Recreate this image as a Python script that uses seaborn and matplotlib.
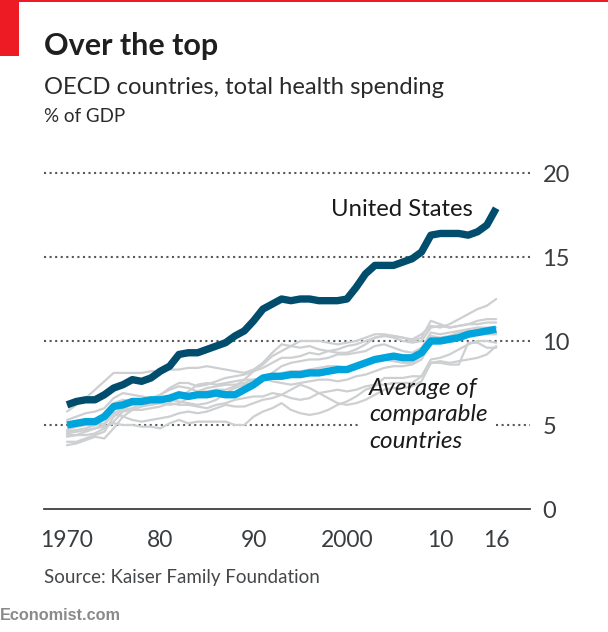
import pandas as pd
import matplotlib.pyplot as plt
import matplotlib.patches as mpatches
import seaborn as sns

# Values
years = list(range(1970, 2017))
united_states = [6.2, 6.4, 6.5, 6.5, 6.8, 7.2, 7.4, 7.7, 7.6, 7.8, 8.2, 8.5, 9.2, 9.3, 9.3, 9.5,
                 9.7, 9.9, 10.3, 10.6, 11.2, 11.9, 12.2, 12.5, 12.4, 12.5, 12.5, 12.4, 12.4, 12.4,
                 12.5, 13.2, 14.0, 14.5, 14.5, 14.5, 14.7, 14.9, 15.3, 16.3, 16.4, 16.4, 16.4,
                 16.3, 16.5, 16.9, 17.9]
average = [5.0, 5.1, 5.2, 5.2, 5.5, 6.1, 6.2, 6.4, 6.4, 6.5, 6.5, 6.6, 6.8, 6.7, 6.8, 6.8, 6.9,
           6.8, 6.8, 7.1, 7.4, 7.8, 7.9, 7.9, 8.0, 8.0, 8.1, 8.1, 8.2, 8.3, 8.3, 8.5, 8.7, 8.9,
           9.0, 9.1, 9.0, 9.0, 9.3, 10.0, 10.0, 10.1, 10.2, 10.4, 10.5, 10.6, 10.7]

grey_a = [5.8, 6.2, 6.6, 7.1, 7.6, 8.1, 8.1, 8.1, 8.1, 8.2, 8.2, 8.3, 8.3, 8.4, 8.4, 8.5, 8.4,
          8.3, 8.2, 8.1, 8.3, 8.7, 9.3, 9.8, 9.7, 9.6, 9.7, 9.5, 9.4, 9.3, 9.3, 9.5, 9.8, 10.2,
          10.3, 10.2, 10.0, 9.9, 10.0, 10.8, 10.9, 10.8, 10.9, 11.0, 11.0, 11.1, 11.1]
grey_b = [5.3, 5.5, 5.7, 5.8, 6.0, 6.6, 6.9, 6.8, 6.7, 6.6, 6.8, 7.1, 7.3, 7.2, 7.0, 7.0, 7.1,
          7.1, 7.3, 7.7, 8.2, 8.6, 9.1, 9.4, 9.7, 10.0, 10.0, 10.0, 9.9, 9.8, 9.9, 10.0, 10.2,
          10.4, 10.4, 10.3, 10.2, 10.0, 10.2, 11.2, 11.0, 10.8, 10.9, 11.0, 11.2, 11.3, 11.3]
grey_c = [4.6, 4.7, 4.8, 5.0, 5.5, 6.3, 6.5, 6.4, 6.3, 6.5, 6.8, 7.2, 7.5, 7.5, 7.3, 7.4, 7.6,
          7.8, 7.9, 8.0, 8.2, 8.4, 8.7, 9.0, 9.0, 9.1, 9.3, 9.2, 9.4, 9.5, 9.7, 9.8, 10.0, 10.2,
          10.3, 10.3, 10.2, 10.1, 10.4, 10.9, 10.8, 11.0, 11.3, 11.6, 11.9, 12.1, 12.5]
grey_d = [4.5, 4.6, 4.7, 4.8, 5.0, 5.7, 6.0, 6.2, 6.2, 6.2, 6.4, 6.5, 6.4, 6.3, 6.2, 6.3, 6.5,
          6.9, 7.2, 7.4, 7.5, 7.7, 8.1, 8.5, 8.7, 8.8, 8.9, 8.9, 9.0, 9.2, 9.2, 9.3, 9.4, 9.7,
          9.8, 9.6, 9.4, 9.3, 9.6, 10.5, 10.4, 10.5, 10.6, 10.7, 10.8, 10.8, 10.8]
grey_e = [4.0, 4.0, 4.2, 4.4, 4.6, 5.5, 5.9, 6.0, 6.3, 6.5, 6.5, 6.4, 6.6, 7.0, 7.4, 7.5, 7.4,
          7.5, 7.6, 7.7, 7.7, 7.8, 7.9, 8.1, 8.2, 8.2, 8.3, 8.4, 8.5, 8.5, 8.4, 8.5, 8.7, 8.9,
          8.9, 8.8, 8.7, 8.7, 9.1, 10.3, 10.2, 10.3, 10.5, 10.6, 10.6, 10.5, 10.5]
grey_f = [3.8, 3.9, 4.1, 4.3, 4.2, 4.8, 5.5, 5.9, 6.1, 6.2, 6.3, 6.2, 6.3, 6.6, 7.0, 7.2, 7.3,
          7.4, 7.4, 7.5, 7.7, 7.8, 7.6, 7.5, 7.4, 7.5, 7.6, 7.7, 7.7, 7.6, 7.7, 7.9, 8.0, 8.2,
          8.4, 8.5, 8.5, 8.6, 8.9, 9.9, 10.1, 10.2, 10.2, 10.3, 10.4, 10.4, 10.4]
grey_g = [4.3, 4.4, 4.4, 4.5, 4.8, 5.2, 5.8, 5.9, 5.9, 6.0, 6.1, 6.3, 6.2, 6.2, 6.1, 6.0, 6.2,
          6.3, 6.5, 6.6, 6.7, 6.7, 6.9, 6.8, 6.6, 6.5, 6.6, 6.9, 7.0, 7.1, 7.0, 7.1, 7.3, 7.4,
          7.4, 7.5, 7.5, 7.5, 7.9, 8.9, 9.0, 9.2, 9.5, 9.8, 10.0, 10.0, 9.9]
grey_h = [4.7, 4.9, 5.0, 5.0, 5.1, 5.7, 5.5, 5.3, 5.2, 5.3, 5.4, 5.5, 5.7, 5.8, 5.7, 5.8, 6.0,
          6.2, 6.1, 6.1, 6.3, 6.5, 6.6, 6.8, 7.1, 7.4, 7.2, 6.9, 6.6, 6.3, 6.2, 6.3, 6.5, 6.8,
          7.1, 7.2, 7.2, 7.3, 7.6, 8.7, 8.8, 8.7, 8.8, 8.9, 9.0, 9.2, 9.7]
grey_i = [4.4, 4.4, 4.6, 4.8, 4.9, 5.1, 5.0, 5.0, 4.9, 4.9, 4.8, 5.1, 5.3, 5.1, 5.2, 5.2, 5.2,
          5.2, 5.0, 5.0, 5.5, 5.8, 6.0, 6.3, 5.9, 5.7, 5.6, 5.7, 5.9, 6.2, 6.4, 6.7, 7.1, 7.3,
          7.8, 7.8, 7.8, 7.9, 7.9, 8.7, 8.7, 8.6, 8.6, 9.9, 9.9, 9.6, 9.6]
greys = [grey_a, grey_b, grey_c, grey_d, grey_e, grey_f, grey_g, grey_h, grey_i]

y_ticks = [0, 5, 10, 15, 20]
x_ticks = [1970, 1980, 1990, 2000, 2010, 2016]
x_labels = ["1970", "80", "90", "2000", "10", "16"]

sns.set_style("white")
plt.rcParams["font.family"] = ["Lato", "DejaVu Sans"]

W, H = 608, 632
fig = plt.figure(figsize=(W / 100, H / 100), dpi=100)
ax = fig.add_axes([44 / W, 1 - 509 / H, 486 / W, 336 / H])

# Gridlines, the one at 5 stops for the label
dots = (0, (1, 1.67))
grid_color = "#55595c"
ax.set_xlim(1970 - 23 / 9.33, 1970 + 463 / 9.33)
ax.set_ylim(0, 20)
for v in [10, 15, 20]:
    ax.plot([0, 1], [v, v], transform=ax.get_yaxis_transform(), color=grid_color, lw=1.5,
            ls=dots, clip_on=False, zorder=1)
ax.plot([0, 0.646], [5, 5], transform=ax.get_yaxis_transform(), color=grid_color, lw=1.5, ls=dots, zorder=1)
ax.plot([0.93, 1], [5, 5], transform=ax.get_yaxis_transform(), color=grid_color, lw=1.5, ls=dots, zorder=1)

df_grey = pd.DataFrame({
    "year": years * len(greys),
    "value": [v for g in greys for v in g],
    "country": [i for i in range(len(greys)) for _ in years],
})
sns.lineplot(data=df_grey, x="year", y="value", units="country", estimator=None,
             color="#cdcfd1", lw=1.6, ax=ax, legend=False, zorder=2)
sns.lineplot(x=years, y=united_states, color="#014d6d", lw=5.3, ax=ax, zorder=4,
             solid_capstyle="butt", solid_joinstyle="round")
sns.lineplot(x=years, y=average, color="#00a4dd", lw=5.3, ax=ax, zorder=3,
             solid_capstyle="butt", solid_joinstyle="round")

sns.despine(ax=ax, left=True, right=True, top=True)
ax.spines["bottom"].set_color("#3c4043")
ax.spines["bottom"].set_linewidth(1.3)
ax.set_xlabel("")
ax.set_ylabel("")
ax.set_xticks(x_ticks)
ax.set_xticklabels(x_labels)
ax.yaxis.tick_right()
ax.set_yticks(y_ticks)
ax.tick_params(axis="x", length=8, width=1, color="#3c4043", labelsize=16.5, labelcolor="#3a3d40", pad=7)
ax.tick_params(axis="y", length=0, labelsize=17, labelcolor="#3a3d40", pad=9)

ax.text(2013.5, 17.8, "United States", fontsize=17.2, color="#1a1a1a", ha="right", va="center")
ax.text(2002.4, 5.62, "Average of\ncomparable\ncountries", fontsize=17.5, style="italic",
        color="#1a1a1a", ha="left", va="center", linespacing=1.32, zorder=6)

# Header and footer
fig.add_artist(mpatches.Rectangle((0, 1 - 2 / H), 1, 2 / H, transform=fig.transFigure, color="#ed1c24", lw=0))
fig.add_artist(mpatches.Rectangle((0, 1 - 56 / H), 19 / W, 56 / H, transform=fig.transFigure, color="#ed1c24", lw=0))
fig.text(44 / W, 1 - 46 / H, "Over the top", fontsize=22, fontweight="bold", color="#1f1f1f", ha="left", va="center")
fig.text(44 / W, 1 - 87 / H, "OECD countries, total health spending", fontsize=17.1, color="#2a2a2a", ha="left", va="center")
fig.text(44 / W, 1 - 117 / H, "% of GDP", fontsize=13.5, color="#2a2a2a", ha="left", va="center")
fig.text(44 / W, 1 - 578 / H, "Source: Kaiser Family Foundation", fontsize=13.5, color="#45484b", ha="left", va="center")
fig.text(0, 1 - 616 / H, "Economist.com", fontsize=11.7, fontweight="bold", family="Liberation Sans",
         color="#8a8a8a", ha="left", va="center")

fig.savefig("out.png", dpi=100)
